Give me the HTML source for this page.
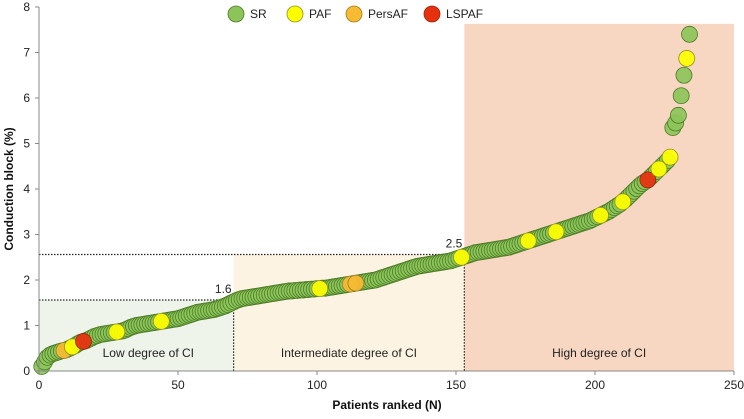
<!DOCTYPE html>
<html><head><meta charset="utf-8"><style>
body{margin:0;background:#fff;font-family:"Liberation Sans",Arial,sans-serif}
svg text{font-family:"Liberation Sans",Arial,sans-serif}
</style></head><body>
<svg id="chart" width="744" height="414" viewBox="0 0 744 414">
<g id="bg"></g><g id="pts"></g><g id="axes"></g>
</svg>
<script>
const values=[0.10,0.20,0.30,0.35,0.38,0.40,0.42,0.44,0.45,0.47,
0.50,0.53,0.56,0.60,0.63,0.65,0.67,0.70,0.73,0.76,
0.78,0.80,0.81,0.82,0.83,0.84,0.85,0.86,0.87,0.88,
0.90,0.93,0.96,0.98,1.00,1.01,1.02,1.03,1.04,1.05,
1.06,1.07,1.08,1.09,1.10,1.11,1.12,1.13,1.14,1.15,
1.17,1.19,1.21,1.23,1.25,1.27,1.29,1.30,1.31,1.32,
1.33,1.34,1.35,1.37,1.39,1.41,1.43,1.46,1.49,1.52,
1.55,1.57,1.59,1.60,1.61,1.62,1.63,1.64,1.65,1.66,
1.67,1.68,1.69,1.70,1.71,1.72,1.73,1.74,1.75,1.76,
1.76,1.77,1.77,1.78,1.78,1.79,1.79,1.80,1.80,1.81,
1.81,1.82,1.82,1.83,1.84,1.85,1.86,1.87,1.88,1.89,
1.90,1.91,1.92,1.93,1.94,1.95,1.96,1.97,1.98,1.99,
2.00,2.02,2.04,2.06,2.08,2.10,2.12,2.14,2.16,2.18,
2.20,2.22,2.24,2.26,2.28,2.30,2.31,2.32,2.33,2.34,
2.35,2.36,2.37,2.38,2.39,2.40,2.41,2.42,2.44,2.46,
2.48,2.50,2.52,2.54,2.56,2.58,2.60,2.61,2.62,2.63,
2.64,2.65,2.66,2.67,2.68,2.69,2.70,2.71,2.72,2.74,
2.76,2.78,2.80,2.82,2.84,2.86,2.88,2.90,2.92,2.94,
2.96,2.98,3.00,3.02,3.04,3.06,3.08,3.10,3.12,3.14,
3.16,3.18,3.20,3.22,3.24,3.26,3.28,3.30,3.33,3.36,
3.39,3.42,3.45,3.48,3.51,3.55,3.59,3.63,3.67,3.72,
3.77,3.83,3.89,3.95,4.01,4.07,4.12,4.16,4.20,4.26,
4.32,4.38,4.44,4.50,4.56,4.62,4.70,5.35,5.45,5.62,
6.05,6.50,6.87,7.40];
const specialIdx=[8,11,15,27,43,100,111,113,151,175,185,201,209,218,222,226,232];
const specialGrp=["PersAF","PAF","LSPAF","PAF","PAF","PAF","PersAF","PersAF","PAF","PAF","PAF","PAF","PAF","LSPAF","PAF","PAF","PAF"];
const xTicks=[0,50,100,150,200,250];
const yTicks=[0,1,2,3,4,5,6,7,8];
const groups=["SR","PAF","PersAF","LSPAF"];
const regions=[{name:"low-ci-region",x0:0,x1:70,top:1.56,fill:"#eef4ea",label:"Low degree of CI"},
{name:"intermediate-ci-region",x0:70,x1:153,top:2.56,fill:"#fdf3e2",label:"Intermediate degree of CI"},
{name:"high-ci-region",x0:153,x1:250,top:7.63,fill:"#f7d6c2",label:"High degree of CI"}];
const thresholds=[{x:70,y:1.56,label:"1.6"},{x:153,y:2.56,label:"2.5"}];

const X0=39,X1=734,Y0=371,Y1=7;
const sx=v=>X0+(v/250)*(X1-X0);
const sy=v=>Y0-(v/8)*(Y0-Y1);
const NS="http://www.w3.org/2000/svg";
const fills={SR:"#8cc45a",PAF:"#ffff00",PersAF:"#f6bb33",LSPAF:"#e8300e"};
const strokes={SR:"#4b7a25",PAF:"#8f8f20",PersAF:"#9a7a20",LSPAF:"#8a2a10"};
function mk(t,a,p){const e=document.createElementNS(NS,t);for(const k in a)e.setAttribute(k,a[k]);p.appendChild(e);return e;}
const bg=document.getElementById('bg'),pts=document.getElementById('pts'),ax=document.getElementById('axes');
regions.forEach(r=>{
 const e=mk('rect',{x:sx(r.x0),y:sy(r.top),width:sx(r.x1)-sx(r.x0),height:Y0-sy(r.top),fill:r.fill},bg);
 
 
 const t=mk('text',{x:(sx(r.x0)+sx(r.x1))/2+(r.x0===0?12:0),y:357,'font-size':12,'text-anchor':'middle',fill:'#222'},bg);
 t.textContent=r.label;
 
 
});
thresholds.forEach(th=>{
 const l=mk('path',{d:`M${X0},${sy(th.y)}H${sx(th.x)}V${Y0}`,fill:'none',stroke:'#222','stroke-width':1.2,'stroke-dasharray':'1.5,1.5'},bg);
 
 
 const t=mk('text',{x:sx(th.x)-2,y:sy(th.y)-7,'font-size':12,'text-anchor':'end',fill:'#222'},bg);
 t.textContent=th.label;
 
 
});
function drawPoint(i,g){
 const c=mk('circle',{cx:sx(i+1),cy:sy(values[i]),r:8,fill:fills[g],stroke:strokes[g],'stroke-width':0.8,'fill-opacity':0.92},pts);
 
 
}
values.forEach((v,i)=>{ if(specialIdx.indexOf(i)<0) drawPoint(i,"SR"); });
specialIdx.forEach((i,k)=>{ if(i<values.length) drawPoint(i,specialGrp[k]); });
mk('line',{x1:X0,y1:Y1,x2:X0,y2:Y0,stroke:'#888','stroke-width':1},ax);
mk('line',{x1:X0,y1:Y0,x2:X1,y2:Y0,stroke:'#888','stroke-width':1},ax);
yTicks.forEach(t=>{
 mk('line',{x1:X0-4,y1:sy(t),x2:X0,y2:sy(t),stroke:'#888'},ax);
 const e=mk('text',{x:X0-9,y:sy(t)+4,'font-size':12,'text-anchor':'end',fill:'#222'},ax);
 e.textContent=t;
 
 
});
xTicks.forEach(t=>{
 mk('line',{x1:sx(t),y1:Y0,x2:sx(t),y2:Y0+4,stroke:'#888'},ax);
 const e=mk('text',{x:sx(t),y:Y0+18,'font-size':12,'text-anchor':'middle',fill:'#222'},ax);
 e.textContent=t;
 
 
});
const yt=mk('text',{x:0,y:0,'font-size':12,'font-weight':'bold','text-anchor':'middle',fill:'#111',transform:`translate(13,${(Y0+Y1)/2}) rotate(-90)`},ax);
yt.textContent="Conduction block (%)";


const xt=mk('text',{x:387,y:409,'font-size':12,'font-weight':'bold','text-anchor':'middle',fill:'#111'},ax);
xt.textContent="Patients ranked (N)";


const lx=[236,295,354,432];
groups.forEach((g,i)=>{
 const c=mk('circle',{cx:lx[i],cy:14,r:8,fill:fills[g],stroke:strokes[g],'stroke-width':0.8},ax);
 
 
 const t=mk('text',{x:lx[i]+14,y:18,'font-size':12,fill:'#222'},ax);
 t.textContent=g;
 
 
});
</script>
</body></html>
